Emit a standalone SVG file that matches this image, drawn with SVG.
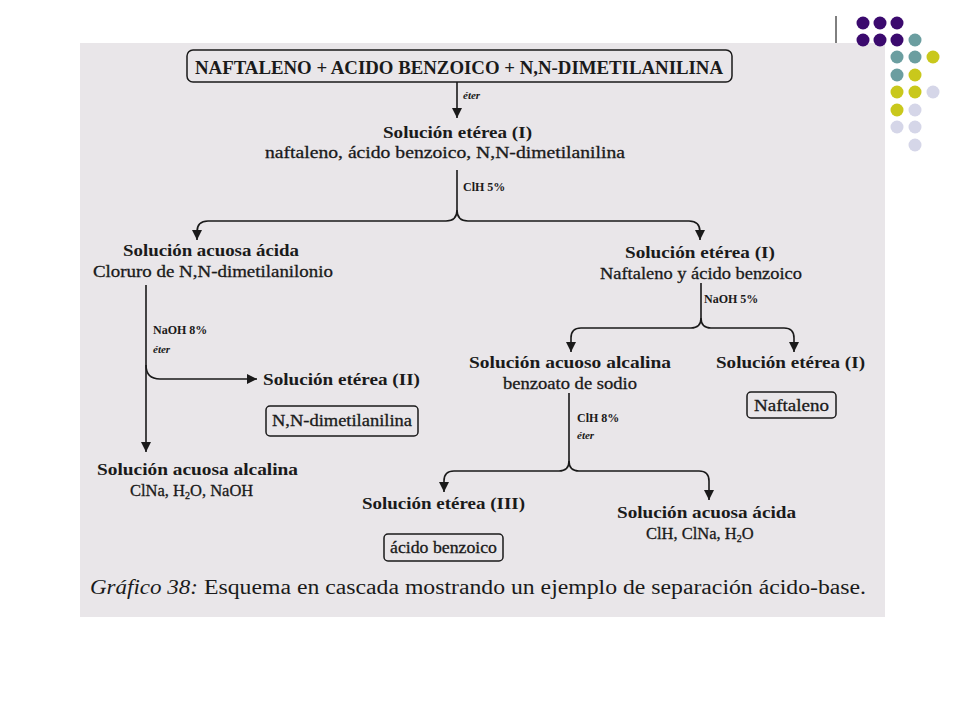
<svg xmlns="http://www.w3.org/2000/svg" width="960" height="720" viewBox="0 0 960 720">
<defs>
<style>
.t{font-family:"Liberation Serif","DejaVu Serif",serif;fill:#1a1a1a}
.h{font-size:17px;font-weight:bold}
.r{font-size:16.5px;stroke:#1a1a1a;stroke-width:0.3}
.s{font-size:12px;font-weight:bold}
.e{font-size:11px;font-weight:bold;font-style:italic}
.box{fill:none;stroke:#1a1a1a;stroke-width:1.5}
.c{fill:none;stroke:#1a1a1a;stroke-width:1.6}
.p{fill:#3b0a6e}.g{fill:#6b9ea0}.y{fill:#c9c81c}.l{fill:#d5d6e8}
</style>
<marker id="ah" viewBox="0 0 10 10" refX="10" refY="5" markerWidth="10" markerHeight="11" markerUnits="userSpaceOnUse" orient="auto">
<path d="M0,0 L10,5 L0,10 Z" fill="#1a1a1a"/>
</marker>
</defs>
<rect width="960" height="720" fill="#ffffff"/>
<rect x="80" y="43" width="805" height="574" fill="#e9e6e9"/>
<line x1="836" y1="16" x2="836" y2="43" stroke="#000" stroke-width="1"/>
<g id="dots">
<circle class="p" cx="863" cy="23" r="6.5"/><circle class="p" cx="880" cy="23" r="6.5"/><circle class="p" cx="897" cy="23" r="6.5"/>
<circle class="p" cx="863" cy="40" r="6.5"/><circle class="p" cx="880" cy="40" r="6.5"/><circle class="p" cx="897" cy="40" r="6.5"/><circle class="g" cx="915" cy="40" r="6.5"/>
<circle class="g" cx="897" cy="57" r="6.5"/><circle class="g" cx="915" cy="57" r="6.5"/><circle class="y" cx="933" cy="57" r="6.5"/>
<circle class="g" cx="897" cy="75" r="6.5"/><circle class="y" cx="915" cy="75" r="6.5"/>
<circle class="y" cx="897" cy="92" r="6.5"/><circle class="y" cx="915" cy="92" r="6.5"/><circle class="l" cx="933" cy="92" r="6.5"/>
<circle class="y" cx="897" cy="110" r="6.5"/><circle class="l" cx="915" cy="110" r="6.5"/>
<circle class="l" cx="897" cy="127" r="6.5"/><circle class="l" cx="915" cy="127" r="6.5"/>
<circle class="l" cx="915" cy="145" r="6.5"/>
</g>
<g id="connectors">
<path class="c" d="M457 82 V118" marker-end="url(#ah)"/>
<path class="c" d="M457 170 V210 Q457 221 446 221 H208 Q197 221 197 232 V240" marker-end="url(#ah)"/>
<path class="c" d="M457 210 Q457 221 468 221 H689 Q700 221 700 232 V240" marker-end="url(#ah)"/>
<path class="c" d="M146 285 V452" marker-end="url(#ah)"/>
<path class="c" d="M146 365 Q146 379 160 379 H257" marker-end="url(#ah)"/>
<path class="c" d="M701 283 V318 Q701 328 691 328 H581 Q571 328 571 338 V352" marker-end="url(#ah)"/>
<path class="c" d="M701 318 Q701 328 711 328 H784 Q794 328 794 338 V352" marker-end="url(#ah)"/>
<path class="c" d="M569 393 V461 Q569 471 559 471 H454 Q444 471 444 481 V492" marker-end="url(#ah)"/>
<path class="c" d="M569 461 Q569 471 579 471 H699 Q709 471 709 481 V500" marker-end="url(#ah)"/>
</g>
<g id="lbl-eter1"><text class="t e" x="463" y="99">éter</text></g>
<g id="lbl-clh5"><text class="t s" x="463" y="191">ClH 5%</text></g>
<g id="lbl-naoh8"><text class="t s" x="153" y="334">NaOH 8%</text><text class="t e" x="153" y="353">éter</text></g>
<g id="lbl-naoh5"><text class="t s" x="704" y="303">NaOH 5%</text></g>
<g id="lbl-clh8"><text class="t s" x="577" y="422">ClH 8%</text><text class="t e" x="577" y="439">éter</text></g>
<g id="start">
<rect class="box" x="187" y="50" width="545" height="32" rx="6"/>
<text class="t" x="195" y="74" font-size="18.5" font-weight="bold" textLength="528" lengthAdjust="spacingAndGlyphs">NAFTALENO + ACIDO BENZOICO + N,N-DIMETILANILINA</text>
</g>
<g id="sol-eterea-1">
<text class="t h" x="383" y="138" textLength="149" lengthAdjust="spacingAndGlyphs">Solución etérea (I)</text>
<text class="t r" x="265" y="158" textLength="360" lengthAdjust="spacingAndGlyphs">naftaleno, ácido benzoico, N,N-dimetilanilina</text>
</g>
<g id="sol-acuosa-acida-1">
<text class="t h" x="123" y="256" textLength="176" lengthAdjust="spacingAndGlyphs">Solución acuosa ácida</text>
<text class="t r" x="93" y="277" textLength="240" lengthAdjust="spacingAndGlyphs">Cloruro de N,N-dimetilanilonio</text>
</g>
<g id="sol-eterea-2">
<text class="t h" x="263" y="385" textLength="157" lengthAdjust="spacingAndGlyphs">Solución etérea (II)</text>
<rect class="box" x="266" y="406" width="152" height="30" rx="4"/>
<text class="t r" x="272" y="426" textLength="140" lengthAdjust="spacingAndGlyphs">N,N-dimetilanilina</text>
</g>
<g id="sol-acuosa-alcalina-1">
<text class="t h" x="97" y="475" textLength="201" lengthAdjust="spacingAndGlyphs">Solución acuosa alcalina</text>
<text class="t r" x="130" y="496">ClNa, H<tspan font-size="10" dy="3">2</tspan><tspan dy="-3">O, NaOH</tspan></text>
</g>
<g id="sol-eterea-1b">
<text class="t h" x="625" y="258" textLength="150" lengthAdjust="spacingAndGlyphs">Solución etérea (I)</text>
<text class="t r" x="600" y="279" textLength="202" lengthAdjust="spacingAndGlyphs">Naftaleno y ácido benzoico</text>
</g>
<g id="sol-acuoso-alcalina">
<text class="t h" x="469" y="368" textLength="202" lengthAdjust="spacingAndGlyphs">Solución acuoso alcalina</text>
<text class="t r" x="503" y="389" textLength="134" lengthAdjust="spacingAndGlyphs">benzoato de sodio</text>
</g>
<g id="sol-eterea-1c">
<text class="t h" x="716" y="368" textLength="149" lengthAdjust="spacingAndGlyphs">Solución etérea (I)</text>
<rect class="box" x="747" y="392" width="89" height="26" rx="4"/>
<text class="t r" x="754" y="411" textLength="75" lengthAdjust="spacingAndGlyphs">Naftaleno</text>
</g>
<g id="sol-eterea-3">
<text class="t h" x="362" y="509" textLength="163" lengthAdjust="spacingAndGlyphs">Solución etérea (III)</text>
<rect class="box" x="384" y="534" width="119" height="27" rx="4"/>
<text class="t r" x="390" y="553" textLength="107" lengthAdjust="spacingAndGlyphs">ácido benzoico</text>
</g>
<g id="sol-acuosa-acida-2">
<text class="t h" x="617" y="518" textLength="179" lengthAdjust="spacingAndGlyphs">Solución acuosa ácida</text>
<text class="t r" x="646" y="539">ClH, ClNa, H<tspan font-size="10" dy="3">2</tspan><tspan dy="-3">O</tspan></text>
</g>
<g id="caption">
<text class="t" x="90" y="594" font-size="20" font-style="italic" textLength="108" lengthAdjust="spacingAndGlyphs">Gráfico 38:</text>
<text class="t" x="204" y="594" font-size="20" textLength="662" lengthAdjust="spacingAndGlyphs">Esquema en cascada mostrando un ejemplo de separación ácido-base.</text>
</g>
</svg>
